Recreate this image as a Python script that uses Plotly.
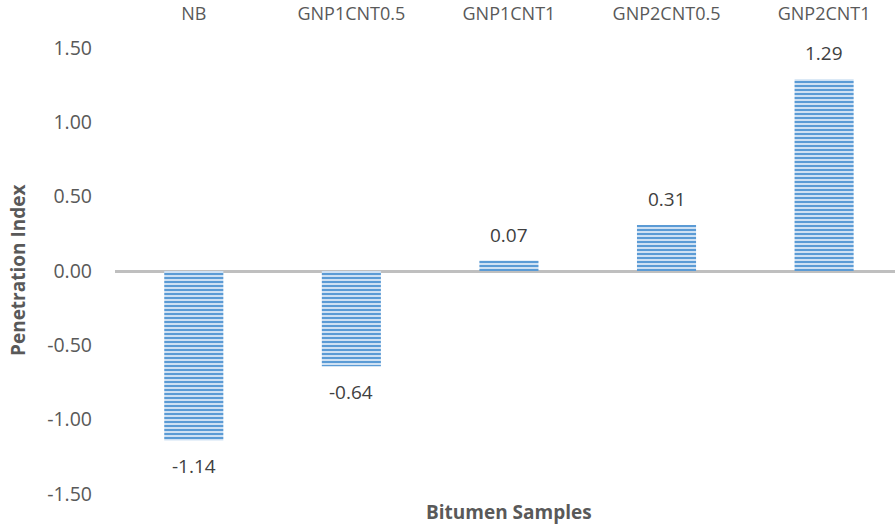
import plotly.graph_objects as go

samples = ["NB", "GNP1CNT0.5", "GNP1CNT1", "GNP2CNT0.5", "GNP2CNT1"]
pen_index = [-1.14, -0.64, 0.07, 0.31, 1.29]
y_ticks = [-1.5, -1.0, -0.5, 0.0, 0.5, 1.0, 1.5]

TEXT = "#595959"
FONT = "Open Sans"

xs = list(range(len(samples)))

fig = go.Figure(
    go.Bar(
        x=xs,
        y=pen_index,
        width=0.375,
        marker=dict(
            color="#dce9f7",
            line=dict(width=0),
            pattern=dict(shape="-", size=4, solidity=0.55,
                         fgcolor="#5b9bd5", bgcolor="#dce9f7", fillmode="replace"),
        ),
        hoverinfo="x+y",
    )
)

# value labels placed a fixed distance beyond the end of each bar
labels = [
    dict(x=x, y=v, xref="x", yref="y", text=f"{v:.2f}", showarrow=False,
         yanchor="middle", yshift=26 if v >= 0 else -26,
         font=dict(family=FONT, size=19, color="#404040"))
    for x, v in zip(xs, pen_index)
]

fig.update_layout(
    width=895, height=528,
    margin=dict(l=115, r=0, t=48, b=34),
    paper_bgcolor="white", plot_bgcolor="white",
    showlegend=False,
    font=dict(family=FONT, color=TEXT),
    xaxis=dict(
        side="top",
        range=[-0.5, 4.45],
        tickvals=xs,
        ticktext=samples,
        tickfont=dict(family=FONT, size=18, color=TEXT),
        ticks="", showline=False, showgrid=False, zeroline=False,
        ticklabelstandoff=23,
    ),
    yaxis=dict(
        range=[-1.5, 1.5],
        tickvals=y_ticks,
        ticktext=[f"{v:.2f}" for v in y_ticks],
        tickfont=dict(family=FONT, size=19.5, color=TEXT),
        ticks="", showline=False, showgrid=False,
        zeroline=True, zerolinecolor="#bfbfbf", zerolinewidth=2.5,
        ticklabelstandoff=22,
    ),
    annotations=labels + [
        dict(text="<b>Bitumen Samples</b>", xref="paper", yref="paper",
             x=0.505, y=-34 / 446 + 0.003, xanchor="center", yanchor="bottom",
             showarrow=False, font=dict(family=FONT, size=19, color=TEXT)),
        dict(text="<b>Penetration Index</b>", xref="paper", yref="paper",
             x=(18 - 115) / 780, y=0.5, xanchor="center", yanchor="middle",
             textangle=-90, showarrow=False,
             font=dict(family=FONT, size=19, color=TEXT)),
    ],
)

fig.write_html("out.html")
